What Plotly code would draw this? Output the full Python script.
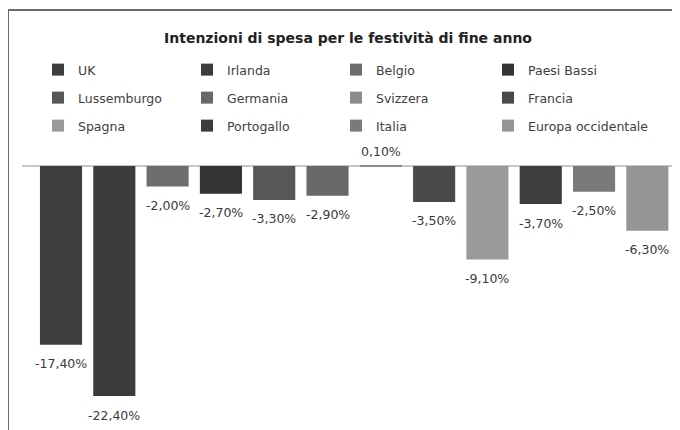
import plotly.graph_objects as go

countries = ["UK", "Irlanda", "Belgio", "Paesi Bassi",
             "Lussemburgo", "Germania", "Svizzera", "Francia",
             "Spagna", "Portogallo", "Italia", "Europa occidentale"]
values = [-17.4, -22.4, -2.0, -2.7, -3.3, -2.9, 0.1, -3.5, -9.1, -3.7, -2.5, -6.3]
colors = ["#3e3e3e", "#3c3c3c", "#6e6e6e", "#333333",
          "#575757", "#686868", "#8c8c8c", "#4a4a4a",
          "#9a9a9a", "#3d3d3d", "#7a7a7a", "#959595"]
title = "Intenzioni di spesa per le festività di fine anno"

FONT = "DejaVu Sans, Verdana, sans-serif"
W, H = 680, 430
OFF = 8  # page body margin offset
# desired page-pixel geometry of the plot area
P_LEFT, P_RIGHT, P_TOP, P_BOTTOM = 33, 674, 150, 420
ML = P_LEFT - OFF
MR = W - (P_RIGHT - OFF)
MT = P_TOP - OFF
MB = H - (P_BOTTOM - OFF)
plot_h = P_BOTTOM - P_TOP
plot_w = P_RIGHT - P_LEFT
ymin, ymax = -24.73, 1.56

def py(pix):  # page pixel y -> paper y
    return (P_BOTTOM - pix) / plot_h

def px(pix):  # page pixel x -> paper x
    return (pix - P_LEFT) / plot_w

row_y = [70, 98, 126]
col_x = [38, 488]  # legend start: columns 1-3 group, column 4

def legend_for(i):
    row, col = divmod(i, 4)
    if col < 3:
        return ["legend", "legend2", "legend3"][row]
    return ["legend4", "legend5", "legend6"][row]

fig = go.Figure()
for i, (c, v, col) in enumerate(zip(countries, values, colors)):
    fig.add_trace(go.Bar(
        x=[c], y=[v], name=c, marker=dict(color=col, line=dict(width=0)),
        legend=legend_for(i), showlegend=True, cliponaxis=False,
    ))
    fig.add_annotation(
        x=c, y=v, xref="x", yref="y", showarrow=False,
        text=f"{v:.2f}%".replace(".", ","),
        yanchor="middle", xanchor="center",
        yshift=(-19 if v < 0 else 13),
        font=dict(family=FONT, size=12.5, color="#3a3a3a"),
    )

leg_common = dict(orientation="h", xanchor="left", yanchor="middle",
                  bgcolor="rgba(0,0,0,0)",
                  font=dict(family=FONT, size=12.5, color="#404040"),
                  itemwidth=30, tracegroupgap=0)
layout_legs = {}
for r, ry in enumerate(row_y):
    layout_legs[["legend", "legend2", "legend3"][r]] = dict(
        leg_common, entrywidth=104, entrywidthmode="pixels", x=px(col_x[0]), y=py(ry))
    layout_legs[["legend4", "legend5", "legend6"][r]] = dict(
        leg_common, x=px(col_x[1]), y=py(ry))

fig.update_layout(
    width=W, height=H,
    margin=dict(l=ML, r=MR, t=MT, b=MB, autoexpand=False),
    paper_bgcolor="white", plot_bgcolor="white",
    barmode="group", bargap=0.21,
    title=dict(text="<b>" + title + "</b>", x=0.5, xanchor="center",
               y=1 - (38 - OFF) / H, yanchor="middle",
               font=dict(family=FONT, size=14, color="#222222")),
    xaxis=dict(showticklabels=False, showgrid=False, zeroline=False, showline=False,
               ticks="", categoryorder="array", categoryarray=countries),
    yaxis=dict(range=[ymin, ymax], showticklabels=False, showgrid=False,
               zeroline=False, showline=False, ticks=""),
    showlegend=True,
    **layout_legs,
)

fig.add_shape(type="line", xref="paper", yref="y", x0=px(22), x1=px(690), y0=0, y1=0,
              line=dict(color="#b5b5b5", width=1.5), layer="below")
# frame (top and left edges)
fig.add_shape(type="line", xref="paper", yref="paper", x0=px(8), x1=px(700),
              y0=py(10), y1=py(10), line=dict(color="#6a6a6a", width=2))
fig.add_shape(type="line", xref="paper", yref="paper", x0=px(8), x1=px(8),
              y0=py(9), y1=py(440), line=dict(color="#6a6a6a", width=2))

fig.write_html("out.html")
